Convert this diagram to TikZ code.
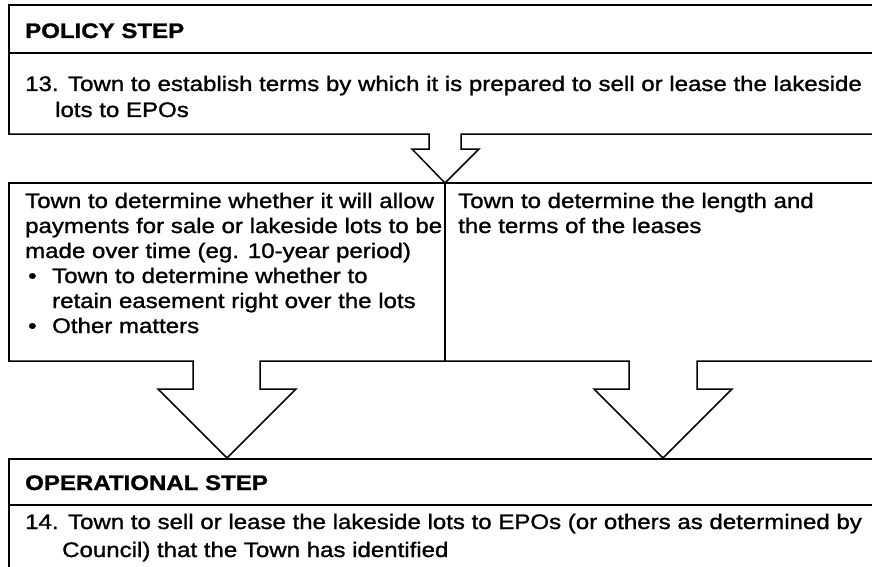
\documentclass[tikz,border=0pt]{standalone}
\usepackage{fontspec}
\setmainfont{Liberation Sans}[FakeStretch=1.145,FakeBold=1.2]
\begin{document}
\begin{tikzpicture}[x=1pt,y=-1pt,
  frame/.style={line width=1.5pt, line join=miter, line cap=rect},
  txt/.style={anchor=base west, inner sep=0pt, font=\fontsize{21pt}{26pt}\selectfont},
  hdr/.style={txt, font=\fontsize{21pt}{26pt}\selectfont\bfseries}]
\useasboundingbox[fill=white] (0,0) rectangle (872,567);

% top box
\draw[frame] (9,134) -- (9,5) -- (872,5);
\draw[frame] (9,53) -- (872,53);
\draw[frame] (9,134) -- (429,134) -- (429,149) -- (412,149) -- (445,183)
  -- (479,149) -- (461,149) -- (461,134) -- (872,134);

% middle boxes
\draw[frame] (9,361) -- (9,183) -- (872,183);
\draw[frame] (445,183) -- (445,361);
\draw[frame] (9,361) -- (193,361) -- (193,389) -- (158,389) -- (227,458)
  -- (296,389) -- (260,389) -- (260,361) -- (629,361) -- (629,389)
  -- (594,389) -- (663,458) -- (732,389) -- (697,389) -- (697,361) -- (872,361);

% bottom box
\draw[frame] (9,567) -- (9,459) -- (872,459);
\draw[frame] (9,505) -- (872,505);

% texts
\node[hdr] (policy) at (25,38) {POLICY STEP};
\node[txt] (s13a) at (25,91) {13.\hspace{0.45em}Town to establish terms by which it is prepared to sell or lease the lakeside};
\node[txt] (s13b) at (55,117) {lots to EPOs};

\node[txt] (l1) at (25,208) {Town to determine whether it will allow};
\node[txt] (l2) at (25,233) {payments for sale or lakeside lots to be};
\node[txt] (l3) at (25,258) {made over time (eg. 10-year period)};
\node[txt] (b1) at (28,283) {\textbullet};
\node[txt] (l4) at (52,283) {Town to determine whether to};
\node[txt] (l5) at (52,308) {retain easement right over the lots};
\node[txt] (b2) at (28,333) {\textbullet};
\node[txt] (l6) at (52,333) {Other matters};

\node[txt] (r1) at (458,208) {Town to determine the length and};
\node[txt] (r2) at (458,233) {the terms of the leases};

\node[hdr] (oper) at (25,490) {OPERATIONAL STEP};
\node[txt] (s14a) at (25,529) {14.\hspace{0.45em}Town to sell or lease the lakeside lots to EPOs (or others as determined by};
\node[txt] (s14b) at (62,557) {Council) that the Town has identified};
\end{tikzpicture}
\end{document}
